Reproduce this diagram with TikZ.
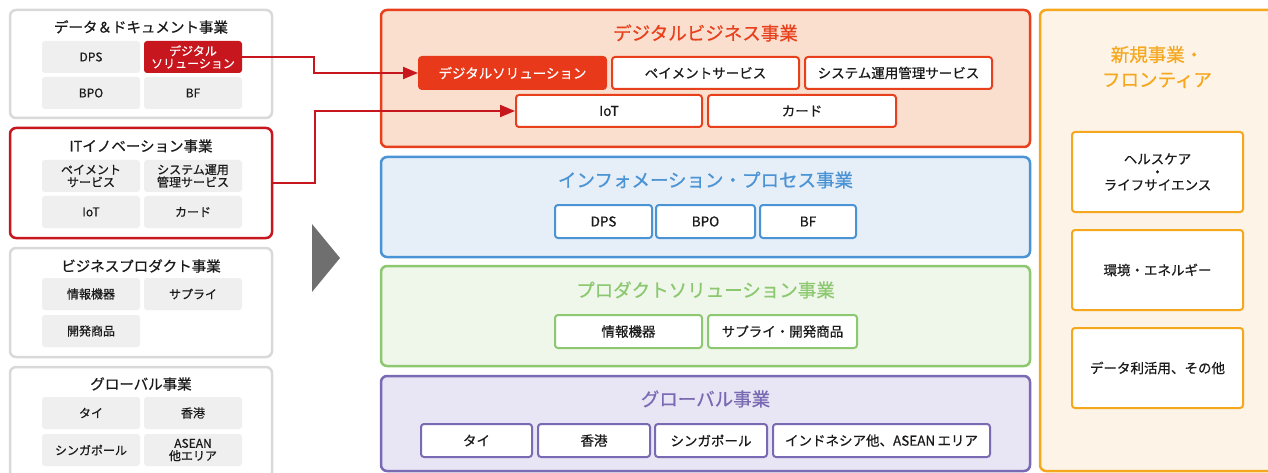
\documentclass[tikz,border=0pt]{standalone}
\usepackage{fontspec}
\setmainfont{Noto Sans CJK JP}[FakeBold=0.6]
\usetikzlibrary{arrows.meta}

\definecolor{lgray}{HTML}{D9D9D9}
\definecolor{cellgray}{HTML}{EFEFEF}
\definecolor{dred}{HTML}{C8161E}
\definecolor{ored}{HTML}{E8401C}
\definecolor{ofill}{HTML}{FADFCE}
\definecolor{ocell}{HTML}{E8391A}
\definecolor{bline}{HTML}{4A93D4}
\definecolor{bfill}{HTML}{E6EEF8}
\definecolor{gline}{HTML}{8CC870}
\definecolor{gfill}{HTML}{EFF6EA}
\definecolor{pline}{HTML}{7A6AB3}
\definecolor{pfill}{HTML}{E8E5F4}
\definecolor{yline}{HTML}{F5A81E}
\definecolor{yfill}{HTML}{FDF3E7}
\definecolor{tri}{HTML}{6F6F6F}
\definecolor{ink}{HTML}{1A1A1A}

\newcommand\bx[7]{\node[#2, minimum width={(#5-#3)*1pt}, minimum height={(#6-#4)*1pt}] (#1) at ({(#3+#5)/2},{(#4+#6)/2}) {#7};}

\tikzset{
  panel/.style={draw, line width=2.5pt, rounded corners=6pt, inner sep=0pt},
  lpanel/.style={panel, draw=lgray, fill=white},
  ltitle/.style={font=\fontsize{14.5}{16}\selectfont, text=ink, inner sep=0pt},
  lcell/.style={fill=cellgray, rounded corners=3pt, inner sep=0pt, font=\fontsize{12}{12.5}\selectfont, text=ink, align=center},
  lcellr/.style={lcell, fill=dred, text=white},
  rtitle/.style={font=\fontsize{18.5}{25}\selectfont, inner sep=0pt, align=center},
  cell/.style={draw, line width=2pt, fill=white, rounded corners=3pt, inner sep=0pt, font=\fontsize{13.5}{13}\selectfont, text=ink, align=center},
  conn/.style={draw=dred, line width=2pt, -{Triangle[length=15pt,width=12pt]}},
}

\begin{document}
\begin{tikzpicture}[x=1pt, y=-1pt]
\useasboundingbox (0,0) rectangle (1268,473);
\clip (0,0) rectangle (1268,473);

% ---------- left panels ----------
\bx{p1}{lpanel}{10}{10}{272}{118}{}
\node[ltitle] (p1t) at (141,27) {データ＆ドキュメント事業};
\bx{c11}{lcell}{42}{41}{140}{73}{DPS}
\bx{c12}{lcellr}{144}{41}{242}{73}{デジタル\\ソリューション}
\bx{c13}{lcell}{42}{77}{140}{109}{BPO}
\bx{c14}{lcell}{144}{77}{242}{109}{BF}

\bx{p2}{lpanel, draw=dred}{10}{128}{272}{238}{}
\node[ltitle] (p2t) at (141,146) {ITイノベーション事業};
\bx{c21}{lcell}{42}{160}{140}{192}{ペイメント\\サービス}
\bx{c22}{lcell}{144}{160}{242}{192}{システム運用\\管理サービス}
\bx{c23}{lcell}{42}{196}{140}{228}{IoT}
\bx{c24}{lcell}{144}{196}{242}{228}{カード}

\bx{p3}{lpanel}{10}{248}{272}{357}{}
\node[ltitle] (p3t) at (141,266) {ビジネスプロダクト事業};
\bx{c31}{lcell}{42}{278}{140}{310}{情報機器}
\bx{c32}{lcell}{144}{278}{242}{310}{サプライ}
\bx{c33}{lcell}{42}{315}{140}{347}{開発商品}

\bx{p4}{lpanel}{10}{367}{272}{478}{}
\node[ltitle] (p4t) at (141,384) {グローバル事業};
\bx{c41}{lcell}{42}{397}{140}{429}{タイ}
\bx{c42}{lcell}{144}{397}{242}{429}{香港}
\bx{c43}{lcell}{42}{434}{140}{466}{シンガポール}
\bx{c44}{lcell}{144}{434}{242}{466}{ASEAN\\他エリア}

% ---------- big arrow ----------
\fill[tri] (312,224) -- (340,258) -- (312,292) -- cycle;

% ---------- right column ----------
\bx{r1}{panel, draw=ored, fill=ofill}{381}{10}{1030}{147}{}
\node[rtitle, text=ored] (r1t) at (705.5,33) {デジタルビジネス事業};
\bx{ds2}{cell, draw=ocell, fill=ocell, text=white}{419}{57}{606}{89}{デジタルソリューション}
\bx{pay}{cell, draw=ored}{612}{57}{799}{89}{ペイメントサービス}
\bx{sys}{cell, draw=ored}{805}{57}{992}{89}{システム運用管理サービス}
\bx{iot}{cell, draw=ored}{516}{95}{702}{127}{IoT}
\bx{card}{cell, draw=ored}{708}{95}{896}{127}{カード}

\bx{r2}{panel, draw=bline, fill=bfill}{381}{157}{1030}{257}{}
\node[rtitle, text=bline] (r2t) at (705.5,180) {インフォメーション・プロセス事業};
\bx{dps}{cell, draw=bline}{555}{205}{652}{238}{DPS}
\bx{bpo}{cell, draw=bline}{656}{205}{755}{238}{BPO}
\bx{bf}{cell, draw=bline}{760}{205}{856}{238}{BF}

\bx{r3}{panel, draw=gline, fill=gfill}{381}{266}{1030}{366}{}
\node[rtitle, text=gline] (r3t) at (705.5,290) {プロダクトソリューション事業};
\bx{joho}{cell, draw=gline}{555}{315}{702}{348}{情報機器}
\bx{sup}{cell, draw=gline}{708}{315}{857}{348}{サプライ・開発商品}

\bx{r4}{panel, draw=pline, fill=pfill}{381}{376}{1030}{471}{}
\node[rtitle, text=pline] (r4t) at (705.5,399) {グローバル事業};
\bx{thai}{cell, draw=pline}{421}{424}{532}{457}{タイ}
\bx{hk}{cell, draw=pline}{538}{424}{650}{457}{香港}
\bx{sg}{cell, draw=pline}{655}{424}{767}{457}{シンガポール}
\bx{asean}{cell, draw=pline}{773}{424}{990}{457}{インドネシア他、ASEAN\,エリア}

% ---------- frontier ----------
\bx{fr}{panel, draw=yline, fill=yfill}{1040}{10}{1278}{471}{}
\node[rtitle, text=yline] (frt) at (1157,67) {新規事業・\\フロンティア};
\bx{f1}{cell, draw=yline}{1072}{132}{1243}{212}{ヘルスケア\\・\\ライフサイエンス}
\bx{f2}{cell, draw=yline}{1072}{230}{1243}{310}{環境・エネルギー}
\bx{f3}{cell, draw=yline}{1072}{328}{1243}{408}{データ利活用、その他}

% ---------- connectors ----------
\draw[conn] (c12.east) -- ++(72,0) |- (ds2.west);
\draw[conn] (p2.east) -- ++(42,0) |- (iot.west);
\end{tikzpicture}
\end{document}
